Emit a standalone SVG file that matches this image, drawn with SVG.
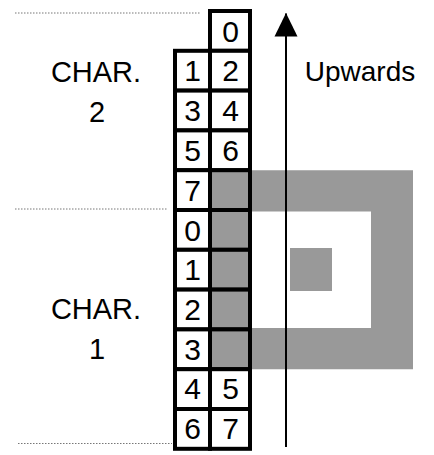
<svg xmlns="http://www.w3.org/2000/svg" width="434" height="455" viewBox="0 0 434 455">
<style>
.cell{fill:#fff;stroke:#000;stroke-width:4}
.g{fill:#999}
.cell.g{fill:#999}
.d{font-family:"Liberation Sans",Arial,sans-serif;font-size:30px;fill:#000;text-anchor:middle}
.lbl{font-family:"Liberation Sans",Arial,sans-serif;font-size:29px;fill:#000;text-anchor:middle}
.dot{stroke:#777;stroke-width:1;stroke-dasharray:1.5 1.5;fill:none}
</style>
<defs>
<marker id="ah" markerWidth="24" markerHeight="24" refX="23" refY="12" orient="auto" markerUnits="userSpaceOnUse" viewBox="0 0 24 24">
<path d="M0,0.5 L23.5,12 L0,23.5 Z" fill="#000"/>
</marker>
</defs>
<rect width="434" height="455" fill="#fff"/>
<g id="dividers">
<line class="dot" x1="15" y1="13" x2="200" y2="13"/>
<line class="dot" x1="15" y1="209" x2="168" y2="209"/>
<line class="dot" x1="18" y1="443.5" x2="172" y2="443.5"/>
</g>
<g id="glyph">
<path class="g" d="M210,170.2 H413 V369.2 H210 Z M250,211.5 V328 H371 V211.5 Z" fill-rule="evenodd"/>
<rect class="g" x="290" y="248" width="42" height="43"/>
</g>
<g id="char2">
<text class="lbl" x="96" y="82">CHAR.</text>
<text class="lbl" x="97" y="121.5">2</text>
<rect class="cell" x="210" y="11" width="40" height="39.8"/>
<rect class="cell" x="175" y="50.8" width="35" height="39.8"/>
<rect class="cell" x="210" y="50.8" width="40" height="39.8"/>
<rect class="cell" x="175" y="90.6" width="35" height="39.8"/>
<rect class="cell" x="210" y="90.6" width="40" height="39.8"/>
<rect class="cell" x="175" y="130.4" width="35" height="39.8"/>
<rect class="cell" x="210" y="130.4" width="40" height="39.8"/>
<rect class="cell" x="175" y="170.2" width="35" height="39.8"/>
<rect class="cell g" x="210" y="170.2" width="40" height="39.8"/>
<text class="d" x="230.5" y="41.5">0</text>
<text class="d" x="192.5" y="81.3">1</text>
<text class="d" x="230.5" y="81.3">2</text>
<text class="d" x="192.5" y="121.1">3</text>
<text class="d" x="230.5" y="121.1">4</text>
<text class="d" x="192.5" y="160.9">5</text>
<text class="d" x="230.5" y="160.9">6</text>
<text class="d" x="192.5" y="200.7">7</text>
</g>
<g id="char1">
<text class="lbl" x="96" y="319">CHAR.</text>
<text class="lbl" x="97" y="358.5">1</text>
<rect class="cell" x="175" y="210" width="35" height="39.8"/>
<rect class="cell g" x="210" y="210" width="40" height="39.8"/>
<rect class="cell" x="175" y="249.8" width="35" height="39.8"/>
<rect class="cell g" x="210" y="249.8" width="40" height="39.8"/>
<rect class="cell" x="175" y="289.6" width="35" height="39.8"/>
<rect class="cell g" x="210" y="289.6" width="40" height="39.8"/>
<rect class="cell" x="175" y="329.4" width="35" height="39.8"/>
<rect class="cell g" x="210" y="329.4" width="40" height="39.8"/>
<rect class="cell" x="175" y="369.2" width="35" height="39.8"/>
<rect class="cell" x="210" y="369.2" width="40" height="39.8"/>
<rect class="cell" x="175" y="409" width="35" height="39.8"/>
<rect class="cell" x="210" y="409" width="40" height="39.8"/>
<text class="d" x="192.5" y="240.5">0</text>
<text class="d" x="192.5" y="280.3">1</text>
<text class="d" x="192.5" y="320.1">2</text>
<text class="d" x="192.5" y="359.9">3</text>
<text class="d" x="192.5" y="399.2">4</text>
<text class="d" x="230.5" y="399.2">5</text>
<text class="d" x="192.5" y="439">6</text>
<text class="d" x="230.5" y="439">7</text>
</g>
<g id="connectors">
<line x1="286" y1="447" x2="286" y2="13.5" stroke="#000" stroke-width="2" marker-end="url(#ah)"/>
</g>
<g id="direction">
<text class="lbl" x="360" y="81" style="font-size:28px">Upwards</text>
</g>
</svg>
